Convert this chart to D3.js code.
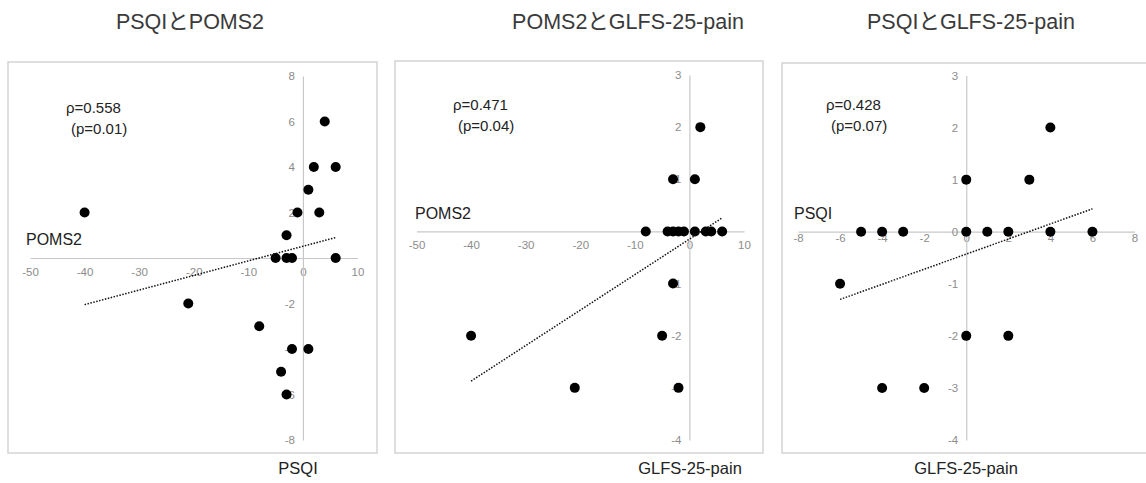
<!DOCTYPE html>
<html>
<head>
<meta charset="utf-8">
<script src="https://cdn.jsdelivr.net/npm/d3@7"></script>
<style>
body { margin: 0; background: #fff; }
text { font-family: "Liberation Sans", Arial, "Noto Sans CJK JP", sans-serif; }
.axis path { stroke: #c8c8c8; stroke-width: 1.2; }
.axis text { fill: #8c8c8c; font-size: 11.5px; }
</style>
</head>
<body>
<div id="chart"></div>
<script>
// panel 1: PSQI (x) vs POMS2 (y)
var psqiPomsX = [4, 2, 6, 1, -1, 3, -40, -3, -5, -3, -2, 6, -21, -8, -2, 1, -4, -3];
var psqiPomsY = [6, 4, 4, 3, 2, 2, 2, 1, 0, 0, 0, 0, -2, -3, -4, -4, -5, -6];
var psqiPomsTrend = [[-40, -2.05], [6, 0.9]];

// panel 2: GLFS-25-pain (x) vs POMS2 (y)
var pomsGlfsX = [2, -3, 1, -8, -4, -3, -2, -1, 1, 3, 4, 6, -3, -40, -5, -21, -2];
var pomsGlfsY = [2, 1, 1, 0, 0, 0, 0, 0, 0, 0, 0, 0, -1, -2, -2, -3, -3];
var pomsGlfsTrend = [[-40, -2.87], [6, 0.26]];

// panel 3: GLFS-25-pain (x) vs PSQI (y)
var psqiGlfsX = [4, 0, 3, -5, -4, -3, 0, 1, 2, 4, 6, -6, 0, 2, -4, -2];
var psqiGlfsY = [2, 1, 1, 0, 0, 0, 0, 0, 0, 0, 0, -1, -2, -2, -3, -3];
var psqiGlfsTrend = [[-6, -1.3], [6, 0.44]];

var titles = ["PSQIとPOMS2", "POMS2とGLFS-25-pain", "PSQIとGLFS-25-pain"];
var rhoLabels = ["ρ=0.558", "ρ=0.471", "ρ=0.428"];
var pLabels = ["(p=0.01)", "(p=0.04)", "(p=0.07)"];
var yNames = ["POMS2", "POMS2", "PSQI"];
var xNames = ["PSQI", "GLFS-25-pain", "GLFS-25-pain"];

var xTicksWide = [-50, -40, -30, -20, -10, 0, 10];
var xTicksNarrow = [-8, -6, -4, -2, 0, 2, 4, 6, 8];
var yTicksPoms = [-8, -6, -4, -2, 0, 2, 4, 6, 8];
var yTicksSmall = [-4, -3, -2, -1, 0, 1, 2, 3];

var svg = d3.select("#chart")
  .append("svg")
  .attr("width", 1146)
  .attr("height", 483);

// layout of each panel (pixels)
var panels = [
  { xs: psqiPomsX, ys: psqiPomsY, trend: psqiPomsTrend,
    frame: [8, 62, 369, 391], xDom: [-50, 10], xRange: [30, 357.5], xTicks: xTicksWide, xPad: 10,
    yDom: [-8, 8], yRange: [440, 76], yTicks: yTicksPoms,
    title: [190, 29], rho: [66, 113], yName: [26, 245], xName: [298, 474] },
  { xs: pomsGlfsX, ys: pomsGlfsY, trend: pomsGlfsTrend,
    frame: [395, 61, 368, 392], xDom: [-50, 10], xRange: [416.5, 744], xTicks: xTicksWide, xPad: 9,
    yDom: [-4, 3], yRange: [440, 75], yTicks: yTicksSmall,
    title: [628, 29], rho: [453, 110], yName: [415, 219], xName: [690, 474] },
  { xs: psqiGlfsX, ys: psqiGlfsY, trend: psqiGlfsTrend,
    frame: [782, 63, 380, 390], xDom: [-8, 8], xRange: [798, 1134.5], xTicks: xTicksNarrow, xPad: 2,
    yDom: [-4, 3], yRange: [440, 75.5], yTicks: yTicksSmall,
    title: [971, 29], rho: [826, 110], yName: [794, 219], xName: [966, 474] }
];

var fmt = d => String(d);

panels.forEach(function(p, i) {
  var g = svg.append("g");

  g.append("rect")
    .attr("x", p.frame[0]).attr("y", p.frame[1])
    .attr("width", p.frame[2]).attr("height", p.frame[3])
    .attr("fill", "none")
    .attr("stroke", "#d4d4d4")
    .attr("stroke-width", 1.5);

  var x = d3.scaleLinear().domain(p.xDom).range(p.xRange);
  var y = d3.scaleLinear().domain(p.yDom).range(p.yRange);

  g.append("g")
    .attr("class", "axis")
    .attr("transform", `translate(0, ${y(0)})`)
    .call(d3.axisBottom(x).tickValues(p.xTicks).tickFormat(fmt).tickSize(0).tickPadding(p.xPad));

  g.append("g")
    .attr("class", "axis")
    .attr("transform", `translate(${x(0)}, 0)`)
    .call(d3.axisLeft(y).tickValues(p.yTicks).tickFormat(fmt).tickSize(0).tickPadding(8));

  g.selectAll(".domain").attr("fill", "none");

  // points
  g.selectAll(null)
    .data(p.xs)
    .enter()
    .append("circle")
    .attr("cx", d => x(d))
    .attr("cy", (d, j) => y(p.ys[j]))
    .attr("r", 5)
    .attr("fill", "#000");

  // dotted trend line
  g.append("line")
    .attr("x1", x(p.trend[0][0])).attr("y1", y(p.trend[0][1]))
    .attr("x2", x(p.trend[1][0])).attr("y2", y(p.trend[1][1]))
    .attr("stroke", "#111")
    .attr("stroke-width", 1.5)
    .attr("stroke-dasharray", "1.5,1.5");

  svg.append("text")
    .attr("x", p.title[0]).attr("y", p.title[1])
    .attr("text-anchor", "middle")
    .attr("font-size", 21.5)
    .attr("fill", "#3a3a3a")
    .text(titles[i]);

  g.append("text")
    .attr("x", p.rho[0]).attr("y", p.rho[1])
    .attr("font-size", 15)
    .attr("fill", "#222")
    .text(rhoLabels[i]);

  g.append("text")
    .attr("x", p.rho[0] + 5).attr("y", p.rho[1] + 21)
    .attr("font-size", 15)
    .attr("fill", "#222")
    .text(pLabels[i]);

  g.append("text")
    .attr("x", p.yName[0]).attr("y", p.yName[1])
    .attr("font-size", 16)
    .attr("fill", "#222")
    .text(yNames[i]);

  g.append("text")
    .attr("x", p.xName[0]).attr("y", p.xName[1])
    .attr("text-anchor", "middle")
    .attr("font-size", 16.5)
    .attr("fill", "#222")
    .text(xNames[i]);
});
</script>
</body>
</html>
